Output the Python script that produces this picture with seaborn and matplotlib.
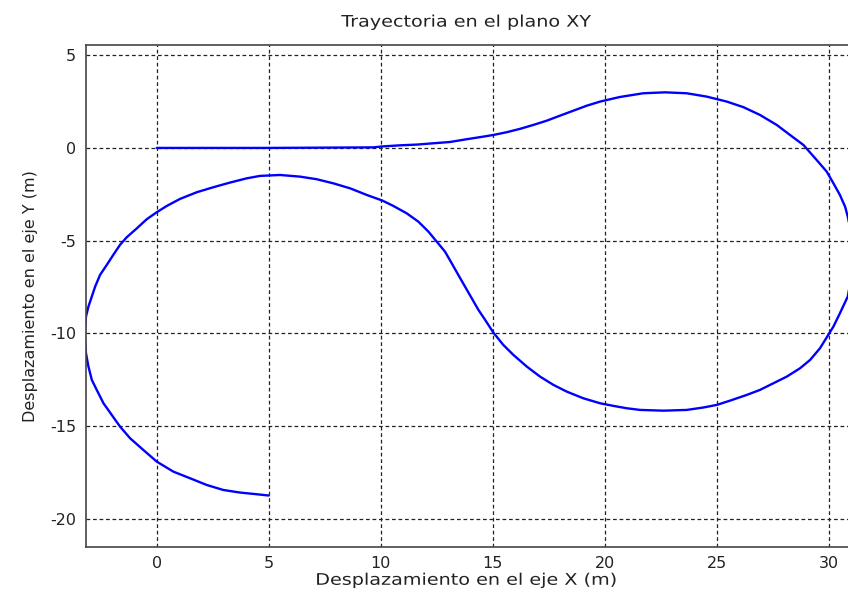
import matplotlib
matplotlib.use("Agg")
import matplotlib.pyplot as plt
import seaborn as sns
import pandas as pd
from matplotlib.patheffects import AbstractPathEffect
from matplotlib.transforms import Affine2D

# Trajectory points (in path order)
x_m = [0.0, 5.0, 9.67, 10.07, 10.86, 11.61, 12.35, 13.09, 13.84, 14.58, 15.03,
       15.63, 16.22, 16.81, 17.41, 18.0, 18.60, 19.20, 19.79, 20.68, 21.72,
       22.69, 23.66, 24.55, 25.45, 26.19, 26.93, 27.68, 28.27, 28.87, 29.46,
       29.91, 30.21, 30.5, 30.73, 30.85, 31.0, 31.05, 31.0, 30.85, 30.5, 30.21,
       29.98, 29.61, 29.17, 28.72, 28.13, 27.53, 26.93, 26.34, 25.59, 25.0,
       24.40, 23.66, 22.62, 21.58, 20.98, 20.38, 19.79, 19.04, 18.30, 17.71,
       17.11, 16.52, 15.92, 15.47, 15.03, 14.66, 14.36, 14.06, 13.76, 13.46,
       13.17, 12.87, 12.50, 12.13, 11.68, 11.16, 10.56, 10.07, 9.38, 8.63,
       7.88, 7.14, 6.40, 5.50, 4.61, 4.02, 3.27, 2.53, 1.79, 1.04, 0.45, 0.0,
       -0.45, -0.89, -1.34, -1.64, -1.94, -2.23, -2.53, -2.75, -2.90, -3.05,
       -3.16, -3.22, -3.16, -3.05, -2.90, -2.68, -2.38, -2.01, -1.64, -1.19,
       -0.60, 0.0, 0.74, 1.49, 2.23, 2.97, 3.72, 4.46, 5.0]
y_m = [0.0, 0.0, 0.03, 0.08, 0.14, 0.18, 0.25, 0.32, 0.47, 0.61, 0.70,
       0.85, 1.03, 1.24, 1.47, 1.74, 2.01, 2.28, 2.50, 2.75, 2.95,
       3.0, 2.95, 2.77, 2.50, 2.20, 1.78, 1.24, 0.70, 0.16, -0.65,
       -1.28, -1.91, -2.54, -3.17, -3.71, -4.6, -5.8, -7.0, -8.02, -8.92, -9.64,
       -10.09, -10.81, -11.44, -11.89, -12.34, -12.70, -13.06, -13.33, -13.64, -13.87,
       -14.01, -14.14, -14.18, -14.14, -14.05, -13.92, -13.78, -13.51, -13.15, -12.79,
       -12.34, -11.80, -11.17, -10.63, -9.97, -9.28, -8.74, -8.11, -7.48, -6.85,
       -6.23, -5.60, -5.06, -4.52, -3.98, -3.53, -3.13, -2.84, -2.54, -2.18,
       -1.91, -1.69, -1.55, -1.46, -1.51, -1.64, -1.87, -2.12, -2.39, -2.75, -3.13, -3.47,
       -3.85, -4.34, -4.82, -5.23, -5.77, -6.31, -6.85, -7.48, -8.02, -8.56,
       -9.10, -10.1, -11.08, -11.80, -12.52, -13.06, -13.78, -14.41, -15.04, -15.67,
       -16.30, -16.93, -17.47, -17.83, -18.19, -18.46, -18.60, -18.69, -18.76]

x_ticks = [0, 5, 10, 15, 20, 25, 30]
y_ticks = [5, 0, -5, -10, -15, -20]
x_limits = (-3.16, 30.86)
y_limits = (-21.52, 5.57)

title = "Trayectoria en el plano XY"
x_label = "Desplazamiento en el eje X (m)"
y_label = "Desplazamiento en el eje Y (m)"


class HStretch(AbstractPathEffect):
    """Stretch text glyphs horizontally about their centre."""

    def __init__(self, sx):
        super().__init__()
        self.sx = sx

    def draw_path(self, renderer, gc, tpath, affine, rgbFace=None):
        ext = tpath.get_extents()
        cx = (ext.x0 + ext.x1) / 2.0
        t = Affine2D().translate(-cx, 0).scale(self.sx, 1.0).translate(cx, 0)
        renderer.draw_path(gc, tpath, t + affine, rgbFace)


df = pd.DataFrame({"x": x_m, "y": y_m})

sns.set_style("white")
plt.rcParams["font.family"] = ["DejaVu Sans"]
plt.rcParams["axes.unicode_minus"] = False

fig = plt.figure(figsize=(8.48, 5.97), dpi=100)
ax = fig.add_axes([0.1014, 0.0843, 0.8986, 0.8408])

sns.lineplot(data=df, x="x", y="y", sort=False, estimator=None,
             color="#0000ff", linewidth=1.7, ax=ax, legend=False)

ax.set_xlim(*x_limits)
ax.set_ylim(*y_limits)
ax.set_xticks(x_ticks)
ax.set_yticks(y_ticks)
ax.grid(True, color="#222222", linestyle=(0, (3, 2.2)), linewidth=0.9)
ax.set_axisbelow(True)
ax.tick_params(direction="in", length=4, width=0.8, color="#333333",
               labelsize=11.5, labelcolor="#222222", pad=7)
for side in ["left", "bottom", "top"]:
    ax.spines[side].set_visible(True)
    ax.spines[side].set_color("#444444")
    ax.spines[side].set_linewidth(1.2)
ax.spines["right"].set_visible(False)

t = ax.set_title(title, fontsize=11.5, color="#222222", pad=13)
t.set_path_effects([HStretch(1.2)])
xl = ax.set_xlabel(x_label, fontsize=11.5, color="#222222", labelpad=1)
xl.set_path_effects([HStretch(1.2)])
ax.set_ylabel(y_label, fontsize=11.5, color="#222222", labelpad=9)

fig.savefig("out.png", dpi=100)
